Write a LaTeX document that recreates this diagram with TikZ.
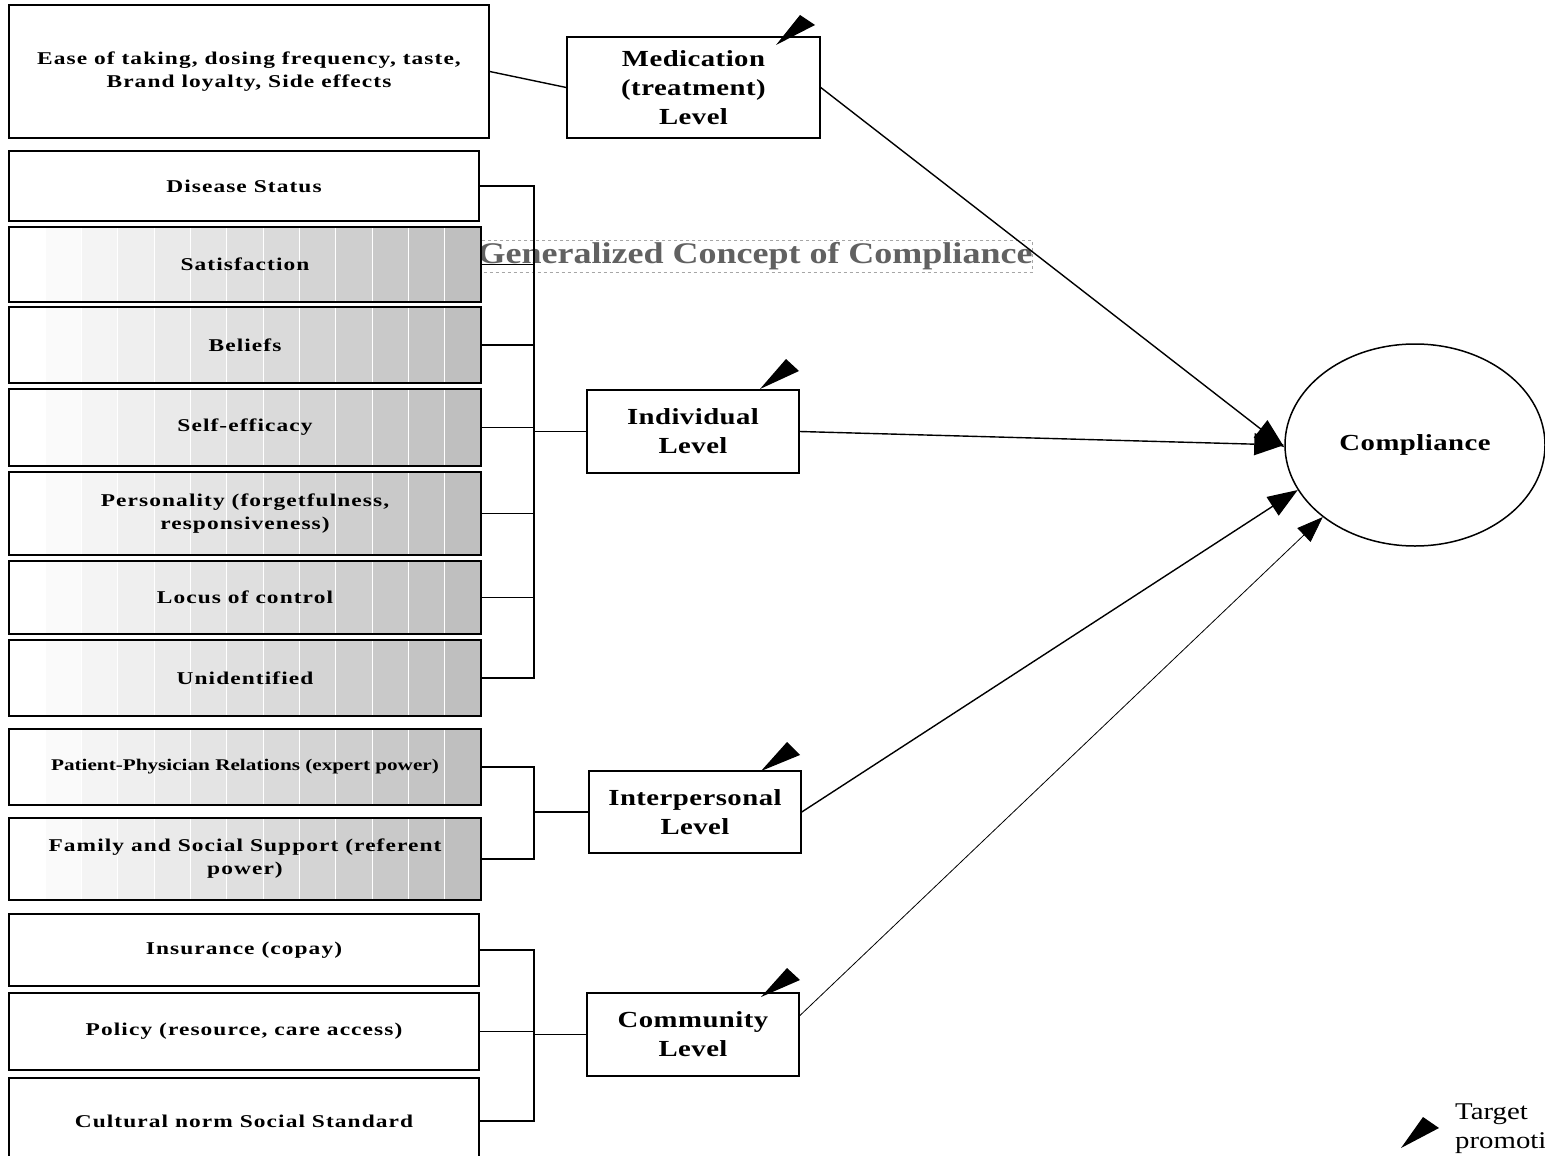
\documentclass[tikz,border=0pt]{standalone}
\usepackage{fontspec}
\setmainfont{Liberation Serif}
\newfontfamily\bxfont{Liberation Serif}[FakeStretch=1.3,LetterSpace=6]
\newfontfamily\ppfont{Liberation Serif}[FakeStretch=1.3]
\newfontfamily\lvfont{Liberation Serif}[FakeStretch=1.25,LetterSpace=2]
\newfontfamily\ttlfont{Liberation Serif}[FakeStretch=1.2]
\newfontfamily\legfont{Liberation Serif}[FakeStretch=1.2]
\usetikzlibrary{arrows.meta,shapes.geometric}
\newcommand\gradbands[4]{%
  \foreach \i in {0,...,12}{%
    \pgfmathsetmacro\pct{\i*2.1}%
    \pgfmathsetmacro\xa{#1+(#3-#1)*\i/13}%
    \pgfmathsetmacro\xb{#1+(#3-#1)*(\i+1)/13}%
    \fill[black!\pct] (\xa,#2) rectangle (\xb,#4);%
    \ifnum\i>0 \draw[white,line width=0.9pt] (\xa,#2) -- (\xa,#4);\fi
  }}
\tikzset{
  corners/.style n args={4}{minimum width={#3-#1}, minimum height={#4-#2}, at={({(#1+#3)/2},{(#2+#4)/2})}},
  lbl/.style={font=\bxfont\bfseries\fontsize{18}{23}\selectfont, align=center},
  bxs/.style={draw, line width=1.5pt, inner sep=0pt, lbl},
  ppl/.style={draw, line width=1.5pt, inner sep=0pt, font=\ppfont\bfseries\fontsize{16.3}{22}\selectfont, align=center},
  lvl/.style={draw, line width=1.5pt, inner sep=0pt, font=\lvfont\bfseries\fontsize{23}{29}\selectfont, align=center},
  conn/.style={line width=1.4pt},
  arr/.style={line width=1.4pt, -{Triangle[length=30pt,width=22pt]}},
  thinarr/.style={line width=0.8pt, -{Triangle[length=26pt,width=19pt]}},
  marker/.style={fill=black}
}
\begin{document}
\begin{tikzpicture}[x=1pt,y=-1pt]
\useasboundingbox (0,0) rectangle (1545,1156);
\clip (0,0) rectangle (1545,1156);
\fill[white] (0,0) rectangle (1545,1156);

% title
\node[draw=black!35, dashed, line width=0.8pt, inner sep=0pt, corners={478}{240}{1032}{272},
      text=black!62, font=\ttlfont\bfseries\fontsize{30}{30}\selectfont] (title) {Generalized Concept of Compliance};

% left boxes
\node[bxs, corners={9}{5}{489}{138}] (ease) {Ease of taking, dosing frequency, taste,\\Brand loyalty, Side effects};
\node[bxs, corners={9}{151}{479}{221}] (dis) {Disease Status};
\gradbands{9}{227}{481}{302}
\node[bxs, corners={9}{227}{481}{302}] (sat) {Satisfaction};
\gradbands{9}{307}{481}{383}
\node[bxs, corners={9}{307}{481}{383}] (bel) {Beliefs};
\gradbands{9}{389}{481}{466}
\node[bxs, corners={9}{389}{481}{466}] (self) {Self-efficacy};
\gradbands{9}{472}{481}{555}
\node[bxs, corners={9}{472}{481}{555}] (pers) {Personality (forgetfulness,\\responsiveness)};
\gradbands{9}{561}{481}{634}
\node[bxs, corners={9}{561}{481}{634}] (loc) {Locus of control};
\gradbands{9}{640}{481}{716}
\node[bxs, corners={9}{640}{481}{716}] (unid) {Unidentified};
\gradbands{9}{729}{481}{805}
\node[ppl, corners={9}{729}{481}{805}] (pp) {Patient-Physician Relations (expert power)};
\gradbands{9}{818}{481}{900}
\node[bxs, corners={9}{818}{481}{900}] (fam) {Family and Social Support (referent\\power)};
\node[bxs, corners={9}{914}{479}{986}] (ins) {Insurance (copay)};
\node[bxs, corners={9}{993}{479}{1070}] (pol) {Policy (resource, care access)};
\node[bxs, corners={9}{1078}{479}{1164}] (cult) {Cultural norm Social Standard};

% level boxes
\node[lvl, corners={567}{37}{820}{138}] (med) {Medication\\(treatment)\\Level};
\node[lvl, corners={587}{390}{799}{473}] (ind) {Individual\\Level};
\node[lvl, corners={589}{771}{801}{853}] (inter) {Interpersonal\\Level};
\node[lvl, corners={587}{993}{799}{1076}] (comm) {Community\\Level};

% compliance
\node[ellipse, draw, line width=1.5pt, minimum width=260pt, minimum height=202pt, inner sep=0pt,
      font=\lvfont\bfseries\fontsize{23}{29}\selectfont] (comp) at (1415,445) {Compliance};

% bracket junctions
\coordinate (bi) at (534,431.5);
\coordinate (bp) at (534,812);
\coordinate (bc) at (534,1034.5);

\draw[conn] (ease.east) -- (med.west);
\draw[conn] (dis.east) -| (bi);
\draw[conn] (unid.east) -| (bi);
\foreach \n in {sat,bel,self,pers,loc} \draw[conn] (\n.east) -- (\n.east -| bi);
\draw[conn] (bi) -- (ind.west);
\draw[conn] (pp.east) -| (bp);
\draw[conn] (fam.east) -| (bp);
\draw[conn] (bp) -- (inter.west);
\draw[conn] (ins.east) -| (bc);
\draw[conn] (cult.east) -| (bc);
\draw[conn] (pol.east) -- (pol.east -| bc);
\draw[conn] (bc) -- (comm.west);

% arrows to compliance
\draw[arr] (med.east) -- (comp.181);
\draw[arr] (ind.east) -- (comp.west);
\draw[arr] (inter.east) -- (comp.201);
\draw[thinarr] (comm.10) -- (comp.218);

% target markers
\fill[marker] (776,45) -- (800,15) -- (815,25) -- cycle;
\fill[marker] (760,389) -- (786,359) -- (799,371) -- cycle;
\fill[marker] (761,771) -- (787,742) -- (800,755) -- cycle;
\fill[marker] (761,997) -- (787,968) -- (800,980) -- cycle;
\fill[marker] (1401,1148) -- (1423,1117) -- (1439,1128) -- cycle;

% legend
\node[anchor=north west, inner sep=0pt, align=left, font=\legfont\fontsize{24}{29}\selectfont] (leg) at (1455,1104) {Target\\promotion};
\end{tikzpicture}
\end{document}
